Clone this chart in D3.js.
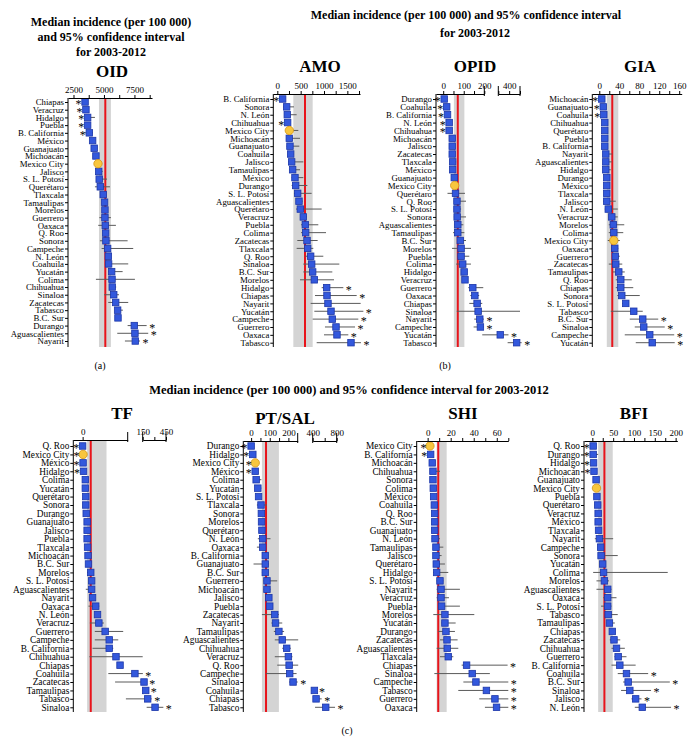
<!DOCTYPE html>
<html>
<head>
<meta charset="utf-8">
<script src="https://cdn.jsdelivr.net/npm/d3@7"></script>
<style>
  body { margin: 0; background: #fff; }
  svg text { font-family: "Liberation Serif", "Times New Roman", serif; fill: #000; }
</style>
</head>
<body>
<svg id="chart" width="694" height="753"></svg>
<script>
// ---- data: median incidence, 95% CI, star side (-1 left, 1 right, 0 none), reference [median, band lo, band hi]

const oidStates = ['Chiapas','Veracruz','Hidalgo','Puebla','B. California','México','Guanajuato','Michoacán','Mexico City','Jalisco','S. L. Potosí','Querétaro','Tlaxcala','Tamaulipas','Morelos','Guerrero','Oaxaca','Q. Roo','Sonora','Campeche','N. León','Coahuila','Yucatán','Colima','Chihuahua','Sinaloa','Zacatecas','Tabasco','B.C. Sur','Durango','Aguascalientes','Nayarit'];
const oidMed = [3450,3520,3660,3660,3800,4070,4200,4340,4510,4570,4610,4700,4940,5050,5080,5080,5110,5140,5160,5300,5360,5380,5630,5660,5680,5800,5960,6120,6150,7490,7540,7570];
const oidLo = [3350,3420,3440,3520,3440,3950,4080,4200,4350,4450,4450,4260,4800,4900,4900,4620,4530,4950,4670,4810,5200,5080,5350,4340,5500,5020,5350,5950,5950,6940,6090,6720];
const oidHi = [3600,3650,4260,3850,4100,4300,4450,4550,4850,4900,5250,5490,5100,5200,5300,5570,5980,5400,6940,7400,5500,6990,6530,7540,6000,6230,6990,6550,6400,8500,8630,7950];
const oidStar = [-1,-1,-1,-1,-1,0,0,0,0,0,0,0,0,0,0,0,0,0,0,0,0,0,0,0,0,0,0,0,0,1,1,1];
const oidRef = [5110, 4590, 5570];

const amoStates = ['B. California','Sonora','N. León','Chihuahua','Mexico City','Michoacán','Guanajuato','Coahuila','Jalisco','Tamaulipas','México','Durango','S. L. Potosí','Aguascalientes','Querétaro','Veracruz','Puebla','Colima','Zacatecas','Tlaxcala','Q. Roo','Sinaloa','B.C. Sur','Morelos','Hidalgo','Chiapas','Nayarit','Yucatán','Campeche','Guerrero','Oaxaca','Tabasco'];
const amoMed = [114,200,214,221,257,257,271,286,307,328,378,393,436,464,493,557,600,607,636,650,714,736,757,793,1057,1064,1085,1150,1178,1257,1278,1578];
const amoLo = [80,128,164,190,186,200,200,250,236,257,307,307,357,400,400,500,507,507,428,414,593,557,557,486,950,807,714,793,757,1021,1000,843];
const amoHi = [150,357,414,250,450,486,471,357,557,486,557,643,735,543,950,629,878,1043,864,771,985,1328,1178,1214,1414,1700,1785,1843,1735,1664,1521,1792];
const amoStar = [-1,0,0,-1,0,0,0,0,0,0,0,0,0,0,0,0,0,0,0,0,0,0,0,0,1,1,0,1,1,1,1,1];
const amoRef = [593, 343, 757];

const opidStates = ['Durango','Coahuila','B. California','N. León','Chihuahua','Michoacán','Jalisco','Zacatecas','Tlaxcala','México','Guanajuato','Mexico City','Querétaro','Q. Roo','S. L. Potosí','Sonora','Aguascalientes','Tamaulipas','B.C. Sur','Morelos','Puebla','Colima','Hidalgo','Veracruz','Guerrero','Oaxaca','Chiapas','Sinaloa','Nayarit','Campeche','Yucatán','Tabasco'];
const opidMed = [5,17,21,29,29,44,44,44,46,46,54,56,60,67,67,68,71,71,83,87,87,95,102,106,144,154,165,170,178,181,318,469];
const opidLo = [2,13,17,24,24,37,38,38,33,38,47,48,21,52,52,52,56,48,68,43,68,63,90,97,122,132,127,66,151,148,190,386];
const opidHi = [8,22,26,34,34,56,52,52,63,55,62,65,106,111,87,111,98,103,111,135,127,135,116,119,195,175,190,500,198,198,394,515];
const opidStar = [-1,-1,-1,-1,-1,0,0,0,0,0,0,0,0,0,0,0,0,0,0,0,0,0,0,0,0,0,0,0,1,1,1,1];
const opidRef = [71, 52, 103];

const giaStates = ['Michoacán','Guanajuato','Coahuila','Chihuahua','Querétaro','Puebla','B. California','Nayarit','Aguascalientes','Hidalgo','Durango','México','Tlaxcala','Jalisco','N. León','Veracruz','Morelos','Colima','Mexico City','Oaxaca','Guerrero','Zacatecas','Tamaulipas','Q. Roo','Chiapas','Sonora','S. L. Potosí','Tabasco','B.C. Sur','Sinaloa','Campeche','Yucatán'];
const giaMed = [5,8,9,11,11,11,11,13,13,13,15,15,15,15,18,25,28,29,29,31,32,33,39,43,43,45,53,69,87,89,101,106];
const giaLo = [3,6,7,9,8,8,9,8,9,9,10,11,10,8,11,19,19,19,17,25,26,19,27,33,33,36,46,23,61,71,51,73];
const giaHi = [7,10,11,15,17,16,14,26,25,23,21,21,21,33,37,37,50,48,41,38,41,46,51,65,68,81,59,87,118,131,150,151];
const giaStar = [-1,-1,-1,0,0,0,0,0,0,0,0,0,0,0,0,0,0,0,0,0,0,0,0,0,0,0,0,0,1,1,1,1];
const giaRef = [26, 15, 38];

const tfStates = ['Q. Roo','Mexico City','México','Hidalgo','Colima','Yucatán','Querétaro','Sonora','Durango','Guanajuato','Jalisco','Puebla','Tlaxcala','Michoacán','B.C. Sur','Morelos','S. L. Potosí','Aguascalientes','Nayarit','Oaxaca','N. León','Veracruz','Guerrero','Campeche','B. California','Chihuahua','Chiapas','Coahuila','Zacatecas','Tamaulipas','Tabasco','Sinaloa'];
const tfMed = [0,1,1,2,6,6,7,7,8,10,10,10,11,12,13,18,20,20,22,29,33,36,50,59,59,74,83,124,167,189,214,309];
const tfLo = [0,0,0,0,4,4,5,5,6,7,8,8,9,9,10,10,15,7,18,13,27,16,27,27,22,15,77,57,72,150,96,201];
const tfHi = [3,3,4,5,8,8,10,10,11,13,13,13,14,15,17,24,25,27,26,37,38,47,90,79,68,150,89,152,201,223,266,416];
const tfStar = [-1,-1,-1,-1,0,0,0,0,0,0,0,0,0,0,0,0,0,0,0,0,0,0,0,0,0,0,0,1,1,1,1,1];
const tfRef = [18, 10, 53];

const ptStates = ['Durango','Hidalgo','Mexico City','México','Colima','Yucatán','S. L. Potosí','Tlaxcala','Sonora','Morelos','Querétaro','N. León','Oaxaca','B. California','Guanajuato','B.C. Sur','Guerrero','Michoacán','Jalisco','Puebla','Zacatecas','Nayarit','Tamaulipas','Aguascalientes','Chihuahua','Veracruz','Q. Roo','Campeche','Sinaloa','Coahuila','Chiapas','Tabasco'];
const ptMed = [0,9,22,22,27,36,40,53,55,56,58,62,62,76,76,76,85,85,95,100,127,131,149,167,191,200,204,207,225,428,456,617];
const ptLo = [-5,4,16,16,13,22,30,31,45,46,48,36,31,66,13,58,67,67,85,90,58,109,122,127,167,127,140,80,204,387,428,439];
const ptHi = [5,14,28,28,55,55,50,85,65,66,68,104,76,86,95,91,140,104,105,110,149,167,177,255,213,222,255,244,250,462,550,772];
const ptStar = [-1,-1,-1,-1,0,0,0,0,0,0,0,0,0,0,0,0,0,0,0,0,0,0,0,0,0,0,0,0,1,1,1,1];
const ptRef = [80, 58, 149];

const shiStates = ['Mexico City','B. California','Michoacán','Chihuahua','Sonora','Colima','México','Coahuila','Q. Roo','B.C. Sur','Guanajuato','N. León','Tamaulipas','Jalisco','Querétaro','Hidalgo','S. L. Potosí','Nayarit','Veracruz','Puebla','Morelos','Yucatán','Durango','Zacatecas','Aguascalientes','Tlaxcala','Chiapas','Sinaloa','Campeche','Tabasco','Guerrero','Oaxaca'];
const shiMed = [2,2.6,4,4.6,4.6,4.9,5.2,5.8,6.1,6.1,6.1,6.4,7.2,7.2,7.5,7.8,10.7,11.6,11.6,12.1,15,15,15.9,16.8,17,17.9,33.8,38.7,41.9,51,58.4,59.8];
const shiLo = [1.2,1.8,3.2,3.5,3.6,3.9,4.2,4.8,5,5,5,3.5,4.9,4.9,4.9,4.9,7.8,7.8,7.8,9.2,4.9,12.1,9.2,10.7,7.8,10.7,29.5,5.8,31,26.6,44.8,49.7];
const shiHi = [3,3.4,5,10.7,6,6,6.5,7,7.3,7.3,7.5,10.7,13.6,12.1,15,17.9,13.6,28,18.5,28,40.5,24.3,23.7,26,26.6,22.3,69.4,54,70,70,70,70];
const shiStar = [-1,-1,0,0,0,0,0,0,0,0,0,0,0,0,0,0,0,0,0,0,0,0,0,0,0,0,1,0,1,1,1,1];
const shiRef = [9.2, 7.8, 16.5];

const bfiStates = ['Q. Roo','Durango','Hidalgo','Michoacán','Guanajuato','Mexico City','Puebla','Querétaro','Veracruz','México','Tlaxcala','Nayarit','Campeche','Sonora','Yucatán','Colima','Morelos','Aguascalientes','Oaxaca','S. L. Potosí','Tabasco','Tamaulipas','Chiapas','Zacatecas','Chihuahua','Guerrero','B. California','Coahuila','B.C. Sur','Sinaloa','Jalisco','N. León'];
const bfiMed = [2,2,3,4,9,10,11,13,14,14,15,17,20,21,25,27,29,37,37,37,38,41,48,52,58,62,66,82,86,90,104,120];
const bfiLo = [0,-6,0,1,7,7,8,6,9,10,11,6,16,14,20,2,10,10,26,21,30,34,44,42,46,53,46,61,74,69,94,102];
const bfiHi = [5,14,6,7,12,13,14,21,19,19,20,50,24,61,30,181,40,46,58,46,61,54,52,67,78,82,104,134,186,141,118,189];
const bfiStar = [-1,-1,-1,-1,0,0,0,0,0,0,0,0,0,0,0,0,0,0,0,0,0,0,0,0,0,0,0,1,1,1,1,1];
const bfiRef = [29, 14, 49];

// ---- layout of the eight panels
const panels = [
  {title:'OID', tx:112, ty:77, axisY:98, rows:[102,341], bottom:347, font:8.8,
   domain:[2050,8940], range:[68,152],
   segs:[{d:[2050,8940], ticks:[2500,3750,5000,6250,7500,8750], labels:[2500,5000,7500], caps:[]}],
   states:oidStates, med:oidMed, lo:oidLo, hi:oidHi, star:oidStar, ref:oidRef},
  {title:'AMO', tx:320, ty:72, axisY:94, rows:[99,342.7], bottom:347, font:8.8,
   domain:[-86,1771], range:[273.3,360],
   segs:[{d:[-86,1771], ticks:d3.range(0,1751,250), labels:[0,500,1000,1500], caps:[]}],
   states:amoStates, med:amoMed, lo:amoLo, hi:amoHi, star:amoStar, ref:amoRef},
  {title:'OPID', tx:475, ty:72, axisY:94, rows:[99,342.7], bottom:347, font:8.8,
   domain:[-35,200,300,500], range:[436,484.3,498.3,520],
   segs:[{d:[-35,200], ticks:[0,50,100,150,200], labels:[0,100,200], caps:[200]},
         {d:[300,500], ticks:[300,400,500], labels:[400], caps:[300,500]}],
   states:opidStates, med:opidMed, lo:opidLo, hi:opidHi, star:opidStar, ref:opidRef},
  {title:'GIA', tx:640, ty:72, axisY:94, rows:[99,342.7], bottom:347, font:8.8,
   domain:[-14,165], range:[592.3,681.7],
   segs:[{d:[-14,165], ticks:d3.range(0,161,20), labels:[0,40,80,120,160], caps:[]}],
   states:giaStates, med:giaMed, lo:giaLo, hi:giaHi, star:giaStar, ref:giaRef},
  {title:'TF', tx:122, ty:419, axisY:440, rows:[446,707.3], bottom:712, font:9.3,
   domain:[-20.7,100,150,450], range:[73.3,127.7,142.7,166],
   segs:[{d:[-20.7,100], ticks:[0], labels:[0], caps:[100]},
         {d:[150,450], ticks:[150,300,450], labels:[150,450], caps:[150,450]}],
   states:tfStates, med:tfMed, lo:tfLo, hi:tfHi, star:tfStar, ref:tfRef},
  {title:'PT/SAL', tx:285, ty:424, axisY:441, rows:[446,707.3], bottom:712, font:9.3,
   domain:[-42,250,400,800], range:[243.3,297.7,312.7,336.7],
   segs:[{d:[-42,250], ticks:[0,50,100,150,200], labels:[0,100,200], caps:[250]},
         {d:[400,800], ticks:[400,600,800], labels:[400,800], caps:[400,800]}],
   states:ptStates, med:ptMed, lo:ptLo, hi:ptHi, star:ptStar, ref:ptRef},
  {title:'SHI', tx:463, ty:419, axisY:441, rows:[446,707.3], bottom:712, font:9.3,
   domain:[-9.5,70], range:[416.7,508.3],
   segs:[{d:[-9.5,70], ticks:d3.range(0,71,10), labels:[0,20,40,60], caps:[]}],
   states:shiStates, med:shiMed, lo:shiLo, hi:shiHi, star:shiStar, ref:shiRef},
  {title:'BFI', tx:634, ty:419, axisY:441, rows:[446,707.3], bottom:712, font:9.3,
   domain:[-20,204], range:[584,677.3],
   segs:[{d:[-20,204], ticks:d3.range(0,201,25), labels:[0,50,100,150,200], caps:[]}],
   states:bfiStates, med:bfiMed, lo:bfiLo, hi:bfiHi, star:bfiStar, ref:bfiRef}
];

const svg = d3.select('#chart');

// ---- headings
const head = svg.append('g').attr('font-weight', 'bold').attr('text-anchor', 'middle');
['Median incidence (per 100 000)', 'and 95% confidence interval', 'for 2003-2012'].forEach((t, i) => {
  head.append('text').attr('x', 111).attr('y', 26 + i * 15).attr('font-size', 12).text(t);
});
head.append('text').attr('x', 466).attr('y', 19).attr('font-size', 12)
  .text('Median incidence (per 100 000) and 95% confidence interval');
head.append('text').attr('x', 475).attr('y', 37).attr('font-size', 12).text('for 2003-2012');
head.append('text').attr('x', 349).attr('y', 394).attr('font-size', 12.5)
  .text('Median incidence (per 100 000) and 95% confidence interval for 2003-2012');

svg.append('text').attr('x', 100).attr('y', 369).attr('text-anchor', 'middle').attr('font-size', 10).text('(a)');
svg.append('text').attr('x', 445).attr('y', 369).attr('text-anchor', 'middle').attr('font-size', 10).text('(b)');
svg.append('text').attr('x', 347).attr('y', 734).attr('text-anchor', 'middle').attr('font-size', 10).text('(c)');

function drawPanel(p) {
  const x = d3.scaleLinear().domain(p.domain).range(p.range);
  const y = d3.scalePoint().domain(p.states).range(p.rows);
  const left = p.range[0];
  const g = svg.append('g');

  const rows = p.states.map((s, i) => ({state: s, med: p.med[i], lo: p.lo[i], hi: p.hi[i], star: p.star[i]}));

  // grey band + red reference line
  g.append('rect')
    .attr('x', x(p.ref[1])).attr('y', p.axisY)
    .attr('width', x(p.ref[2]) - x(p.ref[1])).attr('height', p.bottom - p.axisY)
    .attr('fill', '#d4d4d4');
  g.append('line')
    .attr('x1', x(p.ref[0])).attr('x2', x(p.ref[0]))
    .attr('y1', p.axisY).attr('y2', p.bottom)
    .attr('stroke', '#e8141b').attr('stroke-width', 2);

  // confidence intervals
  g.selectAll('.ci').data(rows).enter().append('line')
    .attr('x1', d => x(d.lo)).attr('x2', d => x(d.hi))
    .attr('y1', d => y(d.state)).attr('y2', d => y(d.state))
    .attr('stroke', '#5a5a5a').attr('stroke-width', 1);

  // medians
  const sq = 6.5;
  g.selectAll('.med').data(rows.filter(d => d.state !== 'Mexico City')).enter().append('rect')
    .attr('x', d => x(d.med) - sq / 2).attr('y', d => y(d.state) - sq / 2)
    .attr('width', sq).attr('height', sq)
    .attr('fill', '#3358dc').attr('stroke', '#1c36a8').attr('stroke-width', 0.8);
  g.selectAll('.city').data(rows.filter(d => d.state === 'Mexico City')).enter().append('circle')
    .attr('cx', d => x(d.med)).attr('cy', d => y(d.state)).attr('r', 4.2)
    .attr('fill', '#f8c63e').attr('stroke', '#d39418').attr('stroke-width', 0.8);

  // significance stars
  g.selectAll('.star').data(rows.filter(d => d.star !== 0)).enter().append('text')
    .attr('x', d => d.star < 0 ? x(d.med) - 6.5 : x(d.hi) + 5.5)
    .attr('y', d => y(d.state) + 6)
    .attr('text-anchor', 'middle').attr('font-size', 12).attr('fill', '#222')
    .text('*');

  // top axis, possibly broken into segments
  p.segs.forEach(s => {
    const sx = d3.scaleLinear().domain(s.d).range([x(s.d[0]), x(s.d[1])]);
    const ax = d3.axisTop(sx).tickValues(s.ticks).tickSize(3).tickSizeOuter(0).tickPadding(2)
      .tickFormat(v => s.labels.includes(v) ? v : '');
    const ag = g.append('g').attr('transform', `translate(0,${p.axisY})`).call(ax);
    ag.selectAll('text').attr('font-size', 9).attr('font-family', '"Liberation Serif", serif');
    s.caps.forEach(c => {
      ag.append('line').attr('x1', sx(c)).attr('x2', sx(c)).attr('y1', -8).attr('y2', 2)
        .attr('stroke', '#000');
    });
  });

  // left axis with state names
  const yg = g.append('g').attr('transform', `translate(${left},0)`)
    .call(d3.axisLeft(y).tickSize(3).tickPadding(1));
  yg.select('.domain').remove();
  yg.selectAll('text').attr('font-size', p.font).attr('font-family', '"Liberation Serif", serif');
  g.append('line').attr('x1', left).attr('x2', left).attr('y1', p.axisY).attr('y2', p.bottom)
    .attr('stroke', '#000');

  g.append('text').attr('x', p.tx).attr('y', p.ty).attr('text-anchor', 'middle')
    .attr('font-size', 17).attr('font-weight', 'bold').text(p.title);
}

panels.forEach(drawPanel);
</script>
</body>
</html>
